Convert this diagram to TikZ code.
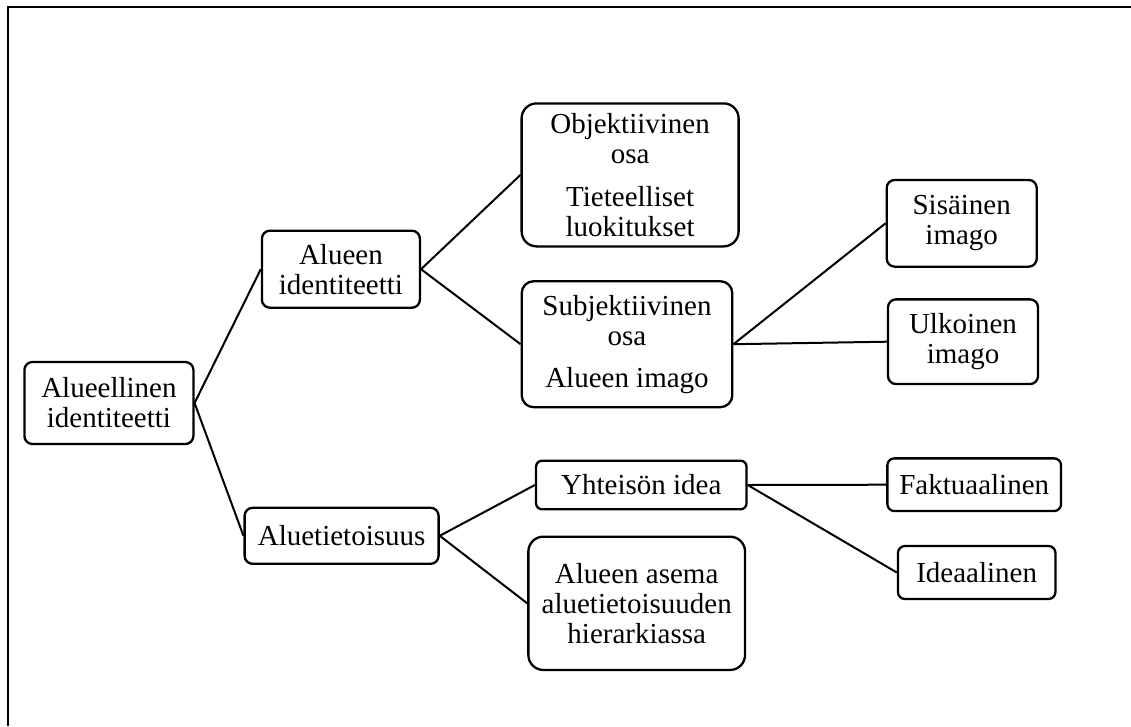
\documentclass[tikz,border=0pt]{standalone}
\usepackage{fontspec}
\setmainfont{Liberation Serif}
\begin{document}
\begin{tikzpicture}[x=1pt,y=-1pt,
  box/.style={draw, line width=2.3pt, rounded corners=8pt, align=center, inner sep=0pt,
    font=\fontsize{29}{30}\selectfont},
  conn/.style={line width=2pt},
  frameline/.style={line width=2pt}]
\useasboundingbox (0,0) rectangle (1131,726);
% frame
\draw[frameline] (1131,7) -- (7.5,7) -- (7.5,726);
% nodes
\node[box, minimum width=169pt, minimum height=82pt] (a) at (108.9,403) {Alueellinen\\identiteetti};
\node[box, minimum width=158pt, minimum height=77pt] (b) at (340.9,269.2) {Alueen\\identiteetti};
\node[box, minimum width=194pt, minimum height=56pt] (c) at (341.6,535.8) {Aluetietoisuus};
\node[box, rounded corners=15pt, minimum width=217pt, minimum height=143pt] (d) at (630.1,174.9) {Objektiivinen\\osa\\[13pt]Tieteelliset\\luokitukset};
\node[box, rounded corners=12pt, minimum width=210.6pt, minimum height=126pt] (e) at (627,344.2) {Subjektiivinen\\osa\\[12pt]Alueen imago};
\node[box, minimum width=150pt, minimum height=86.7pt] (f) at (961.7,223.3) {Sisäinen\\imago};
\node[box, minimum width=150pt, minimum height=84.7pt] (g) at (963,341.7) {Ulkoinen\\imago};
\node[box, rounded corners=6pt, minimum width=210.5pt, minimum height=48.6pt] (h) at (641.3,485) {Yhteisön idea};
\node[box, rounded corners=15pt, minimum width=216.7pt, minimum height=133.3pt] (i) at (636.7,603.3) {Alueen asema\\aluetietoisuuden\\hierarkiassa};
\node[box, rounded corners=7pt, minimum width=173.7pt, minimum height=52.7pt] (j) at (974.2,484.7) {Faktuaalinen};
\node[box, rounded corners=7pt, minimum width=157.5pt, minimum height=53pt] (k) at (976.7,572.5) {Ideaalinen};
% connectors
\draw[conn] (a.east) -- (b.west);
\draw[conn] (a.east) -- (c.west);
\draw[conn] (b.east) -- (d.west);
\draw[conn] (b.east) -- (e.west);
\draw[conn] (e.east) -- (f.west);
\draw[conn] (e.east) -- (g.west);
\draw[conn] (c.east) -- (h.west);
\draw[conn] (c.east) -- (i.west);
\draw[conn] (h.east) -- (j.west);
\draw[conn] (h.east) -- (k.west);
\end{tikzpicture}
\end{document}
